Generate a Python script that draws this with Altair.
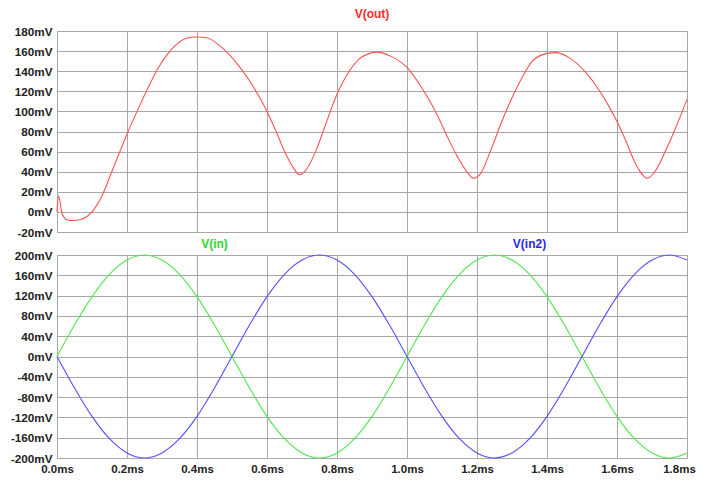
import altair as alt
import pandas as pd

# ---- data ----
t_out = [0, 0.004, 0.015, 0.03, 0.045, 0.068, 0.1, 0.13, 0.153, 0.182, 0.2, 0.23, 0.258,
         0.287, 0.316, 0.344, 0.373, 0.4, 0.43, 0.463, 0.491, 0.52, 0.549, 0.577, 0.6,
         0.625, 0.653, 0.677, 0.693, 0.71, 0.74, 0.768, 0.8, 0.835, 0.863, 0.891, 0.915,
         0.953, 1.0, 1.03, 1.058, 1.087, 1.115, 1.144, 1.173, 1.19, 1.21, 1.239, 1.268,
         1.296, 1.334, 1.358, 1.398, 1.425, 1.463, 1.51, 1.549, 1.577, 1.6, 1.625, 1.653,
         1.687, 1.71, 1.739, 1.768, 1.8]
v_out = [0, 16, -2, -8, -8.5, -7.5, 0, 17, 37, 62, 77.5, 101, 122,
         142, 157, 167.5, 173, 174, 173, 166, 157, 145, 131, 115, 100,
         81, 58, 43, 37, 41, 61, 87.5, 117, 140, 152, 157.5, 159,
         155, 143.7, 130, 114.5, 96, 75, 55, 39, 33.5, 38, 61, 87.5,
         110.5, 137, 150, 157.5, 158.5, 153.5, 139, 121, 105, 90, 71, 48,
         33.5, 41, 61, 84, 112]

t_in = [0.0, 0.05, 0.1, 0.15, 0.2, 0.25, 0.3, 0.35, 0.4, 0.45, 0.5, 0.55, 0.6, 0.65,
        0.7, 0.75, 0.8, 0.85, 0.9, 0.95, 1.0, 1.05, 1.1, 1.15, 1.2, 1.25, 1.3, 1.35,
        1.4, 1.45, 1.5, 1.55, 1.6, 1.65, 1.7, 1.75, 1.8]
v_in = [0, 62, 118, 162, 190, 200, 190, 162, 118, 62, 0, -62, -118, -162, -190, -200,
        -190, -162, -118, -62, 0, 62, 118, 162, 190, 200, 190, 162, 118, 62, 0, -62,
        -118, -162, -190, -200, -190]
v_in2 = [0, -62, -118, -162, -190, -200, -190, -162, -118, -62, 0, 62, 118, 162, 190, 200,
         190, 162, 118, 62, 0, -62, -118, -162, -190, -200, -190, -162, -118, -62, 0, 62,
         118, 162, 190, 200, 190]

series_names = ["V(in)", "V(in2)"]
top_title = ["V(out)"]
x_ticks = [0.0, 0.2, 0.4, 0.6, 0.8, 1.0, 1.2, 1.4, 1.6, 1.8]
y_top_ticks = [-20, 0, 20, 40, 60, 80, 100, 120, 140, 160, 180]
y_bot_ticks = [-200, -160, -120, -80, -40, 0, 40, 80, 120, 160, 200]

# ---- styling ----
RED, GREEN, BLUE = "#ff5050", "#4ee64e", "#5050ff"
RED_T, GREEN_T, BLUE_T = "#ff2a2a", "#2ad82a", "#2a2ae6"
FONT = "Liberation Sans"
W, H_TOP, H_BOT = 630, 201, 203

df_out = pd.DataFrame({"t": t_out, "v": v_out})
df_in = pd.DataFrame({
    "t": t_in + t_in,
    "v": v_in + v_in2,
    "s": [series_names[0]] * len(t_in) + [series_names[1]] * len(t_in),
})

xscale = alt.Scale(domain=[0, 1.8], nice=False, zero=False)
common = dict(grid=True, gridColor="#a8a8a8", gridWidth=1, domain=False, ticks=False,
              labelFont=FONT, labelFontWeight="bold", labelColor="#222222", title=None,
              labelFlush=False, labelOverlap=False)
mv_expr = "(datum.value < 0 ? '-' : '') + format(abs(datum.value), 'd') + 'mV'"

top_line = alt.Chart(df_out).mark_line(color=RED, strokeWidth=1.1, interpolate="monotone").encode(
    x=alt.X("t:Q", scale=xscale,
            axis=alt.Axis(values=x_ticks, labels=False, **common)),
    y=alt.Y("v:Q", scale=alt.Scale(domain=[-20, 180], nice=False, zero=False),
            axis=alt.Axis(values=y_top_ticks, labelPadding=5, labelFontSize=11.7,
                          labelExpr=mv_expr, **common)),
)
top_label = alt.Chart(pd.DataFrame({"label": top_title})).mark_text(
    color=RED_T, font=FONT, fontWeight="bold", fontSize=12, baseline="alphabetic"
).encode(text="label:N", x=alt.value(W / 2), y=alt.value(-13))

top = alt.layer(top_line, top_label).properties(width=W, height=H_TOP)

bot_lines = alt.Chart(df_in).mark_line(strokeWidth=1.1, interpolate="monotone").encode(
    x=alt.X("t:Q", scale=xscale,
            axis=alt.Axis(values=x_ticks, labelPadding=5, labelFontSize=11.5,
                          labelOffset={"condition": {"test": "datum.value > 1.79", "value": -8},
                                       "value": 0},
                          labelExpr="format(datum.value, '.1f') + 'ms'", **common)),
    y=alt.Y("v:Q", scale=alt.Scale(domain=[-200, 200], nice=False, zero=False),
            axis=alt.Axis(values=y_bot_ticks, labelPadding=5, labelFontSize=11.7,
                          labelExpr=mv_expr, **common)),
    color=alt.Color("s:N", scale=alt.Scale(domain=series_names, range=[GREEN, BLUE]),
                    legend=None),
)
lab_in = alt.Chart(pd.DataFrame({"label": [series_names[0]]})).mark_text(
    color=GREEN_T, font=FONT, fontWeight="bold", fontSize=12, baseline="middle"
).encode(text="label:N", x=alt.value(W / 4), y=alt.value(-11))
lab_in2 = alt.Chart(pd.DataFrame({"label": [series_names[1]]})).mark_text(
    color=BLUE_T, font=FONT, fontWeight="bold", fontSize=12, baseline="middle"
).encode(text="label:N", x=alt.value(3 * W / 4), y=alt.value(-11))

bottom = alt.layer(bot_lines, lab_in, lab_in2).properties(width=W, height=H_BOT)

chart = alt.vconcat(top, bottom, spacing=23, bounds="flush").properties(
    padding={"left": 1, "top": -1, "right": 0, "bottom": -2},
    background="white",
).configure_view(stroke="#c8c8c8")

chart.save("out.html", embed_options={"renderer": "svg", "actions": False})
